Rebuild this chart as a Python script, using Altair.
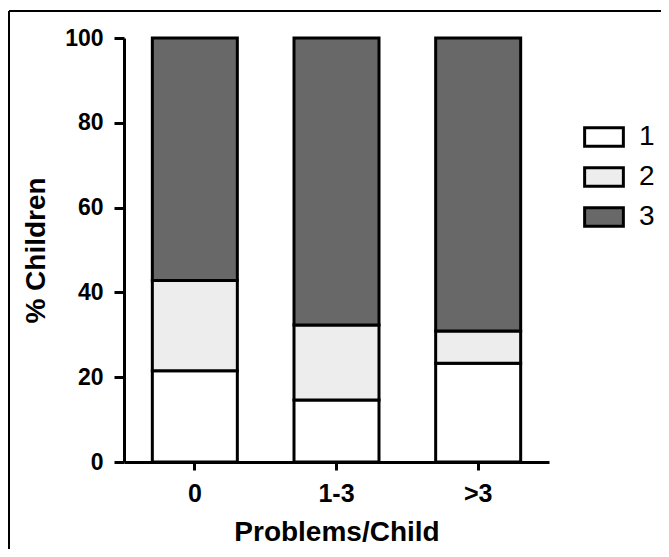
import altair as alt
import pandas as pd

categories = ["0", "1-3", ">3"]
groups = ["1", "2", "3"]
pct_group1 = [21.5, 14.6, 23.3]
pct_group2 = [21.3, 17.7, 7.6]
pct_group3 = [57.2, 67.7, 69.1]
y_ticks = [0, 20, 40, 60, 80, 100]
fill_colors = ["#ffffff", "#ededed", "#686868"]

rows = []
for i, cat in enumerate(categories):
    for j, (g, vals) in enumerate(zip(groups, [pct_group1, pct_group2, pct_group3])):
        rows.append({"cat": cat, "grp": g, "order": j, "pct": vals[i]})
df = pd.DataFrame(rows)

FONT = "Liberation Sans"

bars = alt.Chart(df).mark_bar(stroke="black", strokeWidth=3, opacity=1).encode(
    x=alt.X("cat:N", sort=categories,
            scale=alt.Scale(paddingInner=0.4, paddingOuter=0.2),
            axis=alt.Axis(title="Problems/Child", labelAngle=0,
                          labelFont=FONT, labelFontWeight="bold", labelFontSize=25,
                          labelColor="black", labelPadding=11,
                          titleFont=FONT, titleFontWeight="bold", titleFontSize=28,
                          titleColor="black", titlePadding=12,
                          domainColor="black", domainWidth=3,
                          tickColor="black", tickWidth=3, tickSize=8)),
    y=alt.Y("pct:Q", stack="zero",
            scale=alt.Scale(domain=[0, 100], nice=False),
            axis=alt.Axis(title="% Children", values=y_ticks, grid=False,
                          labelFont=FONT, labelFontWeight="bold", labelFontSize=23,
                          labelColor="black", labelPadding=11,
                          titleFont=FONT, titleFontWeight="bold", titleFontSize=28,
                          titleColor="black", titlePadding=14,
                          domainColor="black", domainWidth=3,
                          tickColor="black", tickWidth=3, tickSize=10)),
    fill=alt.Fill("grp:N", sort=groups,
                  scale=alt.Scale(domain=groups, range=fill_colors),
                  legend=alt.Legend(title=None, orient="none", legendX=459, legendY=78,
                                    symbolType="M-1,-0.48H1V0.48H-1Z", symbolSize=1500,
                                    symbolStrokeColor="black", symbolStrokeWidth=3,
                                    symbolOpacity=1,
                                    labelFont=FONT, labelFontSize=28,
                                    labelColor="black", labelOffset=14, rowPadding=3)),
    order=alt.Order("order:Q"),
)

frame_top = alt.Chart(alt.Data(values=[{}])).mark_rule(color="black", strokeWidth=2).encode(
    x=alt.value(-115), x2=alt.value(545), y=alt.value(-27))
frame_left = alt.Chart(alt.Data(values=[{}])).mark_rule(color="black", strokeWidth=2).encode(
    x=alt.value(-115), y=alt.value(-27), y2=alt.value(519))

chart = alt.layer(bars, frame_top, frame_left).properties(
    width=425, height=424,
    autosize=alt.AutoSizeParams(type="none"),
    padding={"left": 116, "top": 30, "right": 112, "bottom": 87},
).configure_view(strokeWidth=0)

chart.save("out.html", embed_options={"renderer": "svg", "actions": False})
